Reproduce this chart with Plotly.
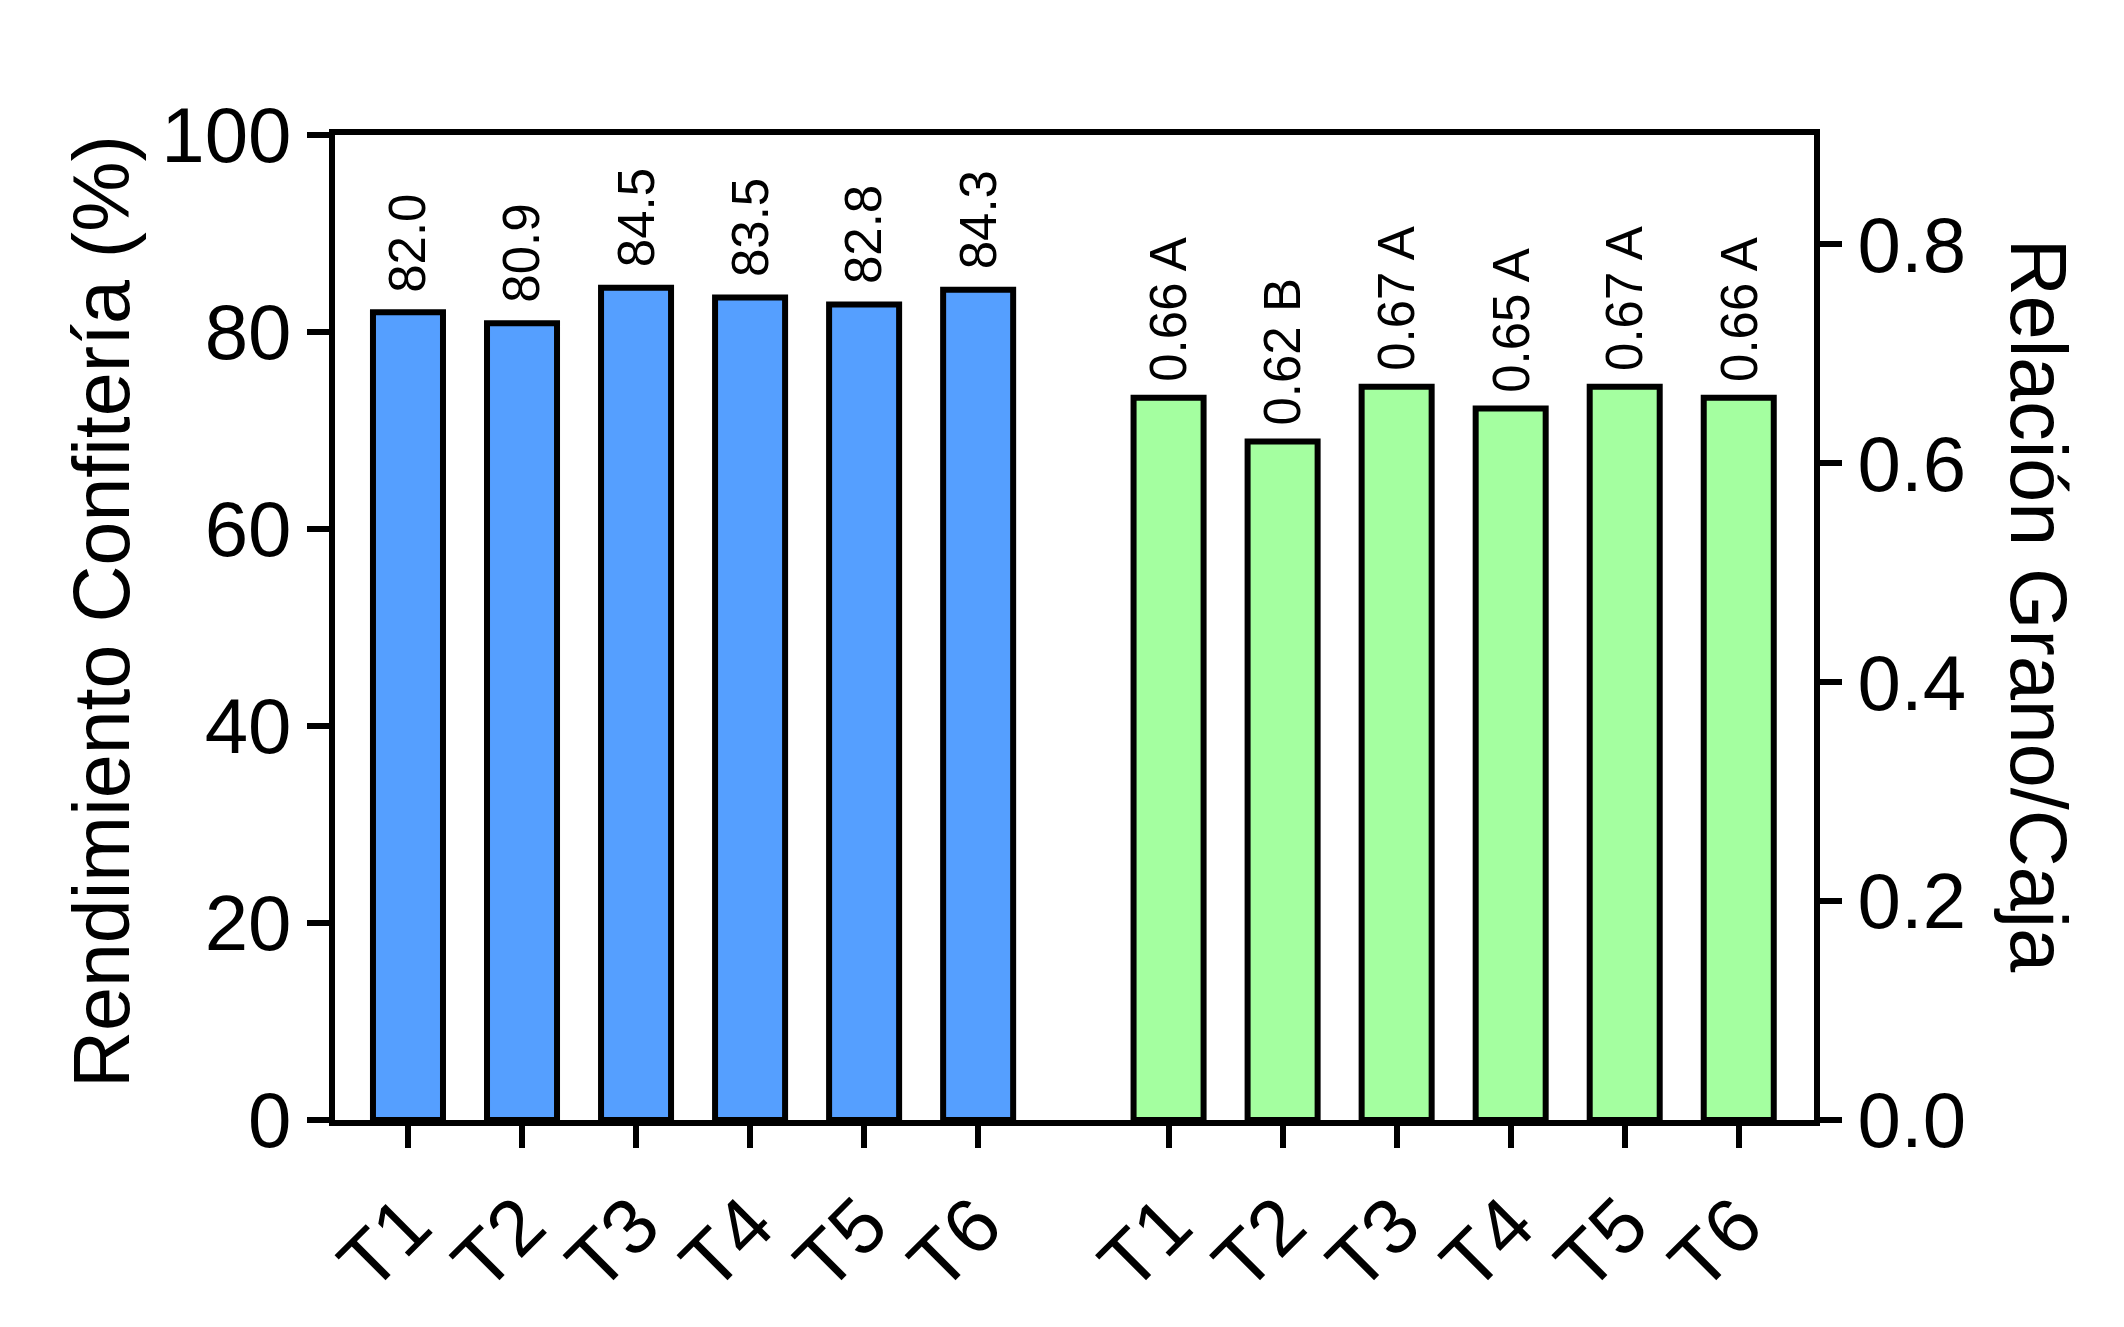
import plotly.graph_objects as go

# ---- data ----
categories = ["T1", "T2", "T3", "T4", "T5", "T6"]
rendimiento = [82.0, 80.9, 84.5, 83.5, 82.8, 84.3]
relacion = [0.66, 0.62, 0.67, 0.65, 0.67, 0.66]
relacion_letters = ["A", "B", "A", "A", "A", "A"]
left_ticks = [0, 20, 40, 60, 80, 100]
right_ticks = [0.0, 0.2, 0.4, 0.6, 0.8]
left_title = "Rendimiento Confitería (%)"
right_title = "Relación Grano/Caja"

# ---- style ----
BLUE = "#559FFF"
GREEN = "#A4FFA0"
FONT = "Arial, Liberation Sans, Helvetica, sans-serif"
group_gap = 6.67
x_blue = [i for i in range(len(categories))]
x_green = [i + group_gap for i in range(len(categories))]
BAR_W = 0.614
LW = 6

fig = go.Figure()
fig.add_trace(go.Bar(
    x=x_blue, y=rendimiento, width=BAR_W,
    marker=dict(color=BLUE, line=dict(color="black", width=6)),
    yaxis="y", showlegend=False, hoverinfo="y",
))
fig.add_trace(go.Bar(
    x=x_green, y=relacion, width=BAR_W,
    marker=dict(color=GREEN, line=dict(color="black", width=6)),
    yaxis="y2", showlegend=False, hoverinfo="y",
))

annotations = []
for xv, v in zip(x_blue, rendimiento):
    annotations.append(dict(
        x=xv, y=v, xref="x", yref="y", text=f"{v:.1f}", textangle=-90,
        xanchor="center", yanchor="bottom", yshift=18, showarrow=False,
        font=dict(family=FONT, size=51, color="black"),
    ))
for xv, v, l in zip(x_green, relacion, relacion_letters):
    annotations.append(dict(
        x=xv, y=v, xref="x", yref="y2", text=f"{v:.2f} {l}", textangle=-90,
        xanchor="center", yanchor="bottom", yshift=14, showarrow=False,
        font=dict(family=FONT, size=51, color="black"),
    ))
annotations.append(dict(
    x=-0.158, y=0.516, xref="paper", yref="paper", text=left_title,
    textangle=-90, xanchor="center", yanchor="middle", showarrow=False,
    font=dict(family=FONT, size=79, color="black"),
))
annotations.append(dict(
    x=1.1515, y=0.523, xref="paper", yref="paper", text=right_title,
    textangle=90, xanchor="center", yanchor="middle", showarrow=False,
    font=dict(family=FONT, size=79, color="black"),
))

axis_common = dict(
    showgrid=False, zeroline=False, showline=True, linecolor="black",
    linewidth=LW, ticks="outside", ticklen=22, tickwidth=LW, tickcolor="black",
)

fig.update_layout(
    width=2124, height=1327,
    margin=dict(l=327, r=318, t=127, b=215),
    paper_bgcolor="white", plot_bgcolor="white",
    barmode="overlay",
    font=dict(family=FONT, color="black"),
    xaxis=dict(
        range=[-0.64, 12.33],
        tickvals=x_blue + x_green,
        ticktext=categories + categories,
        tickangle=-45, mirror=True,
        tickfont=dict(family=FONT, size=78, color="black"),
        **axis_common,
    ),
    yaxis=dict(
        range=[0, 100], tickvals=left_ticks,
        tickfont=dict(family=FONT, size=78, color="black"),
        **axis_common,
    ),
    yaxis2=dict(
        range=[0, 0.9], tickvals=right_ticks, tickformat=".1f",
        overlaying="y", side="right",
        tickfont=dict(family=FONT, size=78, color="black"),
        **axis_common,
    ),
    annotations=annotations,
)

fig.write_html("out.html")
